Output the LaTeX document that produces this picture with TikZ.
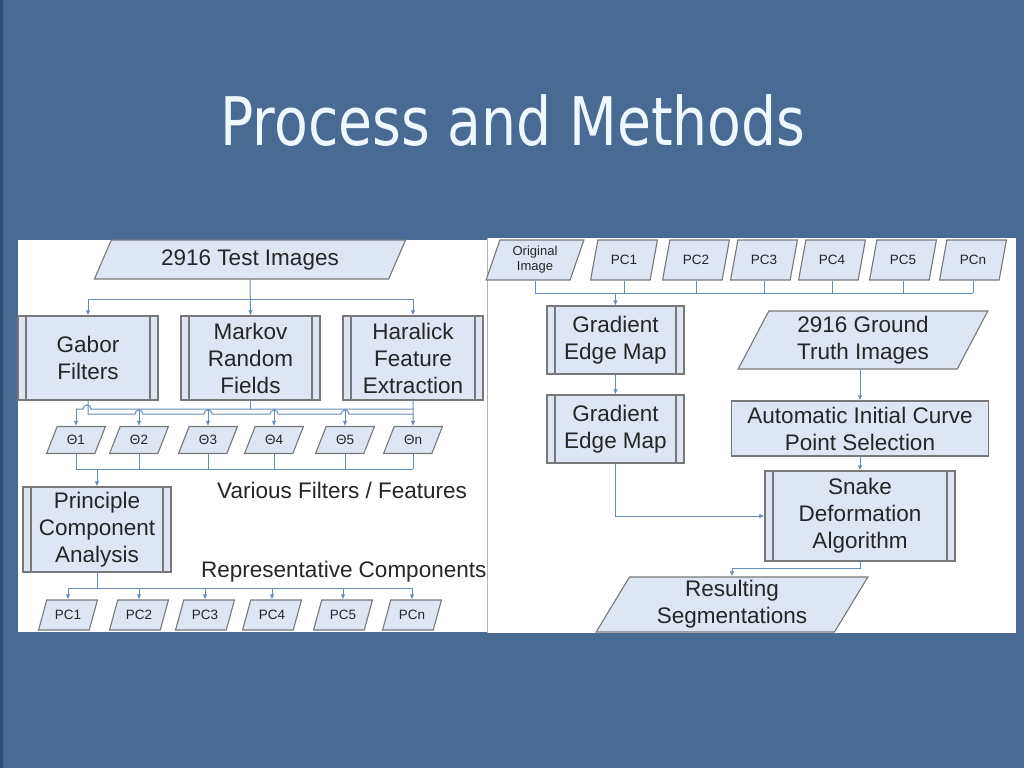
\documentclass[tikz,border=0pt]{standalone}
\usepackage{fontspec}
\setmainfont{Liberation Sans}
\newfontfamily\titlefont{DejaVu Sans}
\usetikzlibrary{shapes.geometric,arrows.meta}
\definecolor{slidebg}{RGB}{72,106,147}
\definecolor{slideedge}{RGB}{48,76,114}
\definecolor{boxfill}{RGB}{221,230,242}
\definecolor{boxline}{RGB}{120,120,120}
\definecolor{wireblue}{RGB}{98,140,190}
\definecolor{titletxt}{RGB}{238,248,255}
\tikzset{
	box/.style={draw=boxline, fill=boxfill, line width=1.1pt, text=black!85,
		font=\fontsize{22.5}{27}\selectfont, align=center, inner sep=0pt},
	procbox/.style={box, rectangle, path picture={
		\draw[boxline, line width=1.1pt]
			([xshift=8pt]path picture bounding box.north west) -- ([xshift=8pt]path picture bounding box.south west)
			([xshift=-8pt]path picture bounding box.north east) -- ([xshift=-8pt]path picture bounding box.south east);}},
	plainbox/.style={box, rectangle},
	databox/.style={box, trapezium, trapezium left angle=#1, trapezium right angle=180-#1, trapezium stretches=true},
	databox/.default=62,
	smalldata/.style={databox=#1, font=\fontsize{13.5}{14}\selectfont},
	smalldata/.default=62,
	wire/.style={draw=wireblue, line width=1pt},
	feed/.style={wire, -{Latex[length=5pt,width=4.5pt]}},
	note/.style={font=\fontsize{22.5}{26}\selectfont, text=black!85, anchor=west, inner sep=0pt}
}
\begin{document}
\begin{tikzpicture}[x=1pt,y=-1pt]
	\useasboundingbox (0,0) rectangle (1024,768);
	% slide
	\fill[slidebg] (0,0) rectangle (1024,768);
	\fill[slideedge] (0,0) rectangle (3,768);
	\node[font=\titlefont\fontsize{67}{70}\selectfont, text=titletxt, xscale=0.825, anchor=base] (title) at (513,145) {Process and Methods};
	\fill[white] (18,240) rectangle (487,632);
	\fill[white] (487,238) rectangle (1016,633);
	\draw[black!30, line width=0.6pt] (487,238) -- (487,633);

	% left panel: features
	\node[databox, minimum width=312, minimum height=39] (test) at (250,259.5) {2916 Test Images};
	\node[procbox, minimum width=140, minimum height=84] (gabor) at (88,358) {Gabor\\Filters};
	\node[procbox, minimum width=139, minimum height=84] (markov) at (250.5,358) {Markov\\Random\\Fields};
	\node[procbox, minimum width=140, minimum height=84] (haralick) at (413,358) {Haralick\\Feature\\Extraction};
	\foreach \i/\x/\t in {1/76/1, 2/139/2, 3/208/3, 4/274/4, 5/345/5, 6/413/n}
		\node[smalldata, minimum width=59, minimum height=27] (th\i) at (\x,440) {Θ\t};
	\node[procbox, minimum width=148, minimum height=85] (pca) at (97,529.5) {Principle\\Component\\Analysis};
	\node[note] (filtersnote) at (217,490) {Various Filters / Features};
	\node[note] (compnote) at (201,572) {Representative Components};
	\foreach \i/\x/\t in {1/68/1, 2/139/2, 3/205/3, 4/272/4, 5/343/5, 6/412/n}
		\node[smalldata, minimum width=59, minimum height=30] (pcl\i) at (\x,615) {PC\t};

	\draw[feed] (test.south) -- (markov.north);
	\draw[wire] (gabor.north |- 0,299) -- (haralick.north |- 0,299);
	\draw[feed] (gabor.north |- 0,299) -- (gabor.north);
	\draw[feed] (haralick.north |- 0,299) -- (haralick.north);

	% feature outputs, with hops
	\draw[wire] (th1.north |- 0,409) -- (83,409) arc[start angle=180, end angle=360, radius=4] -- (th6.north |- 0,409);
	\draw[wire] (markov.south) -- (markov.south |- 0,409);
	\draw[wire] (gabor.south) -- (88,414)
		-- (135,414) arc[start angle=180, end angle=360, radius=4]
		-- (204,414) arc[start angle=180, end angle=360, radius=4]
		-- (270,414) arc[start angle=180, end angle=360, radius=4]
		-- (341,414) arc[start angle=180, end angle=360, radius=4]
		-- (th6.north |- 0,414);
	\draw[feed] (haralick.south) -- (th6.north);
	\foreach \i in {1,...,5}
		\draw[feed] (th\i.north |- 0,409) -- (th\i.north);

	\foreach \i in {1,...,6}
		\draw[wire] (th\i.south) -- (th\i.south |- 0,469);
	\draw[wire] (th1.south |- 0,469) -- (th6.south |- 0,469);
	\draw[feed] (pca.north |- 0,469) -- (pca.north);

	\draw[wire] (pca.south) -- (pca.south |- 0,588);
	\draw[wire] (pcl1.north |- 0,588) -- (pcl6.north |- 0,588);
	\foreach \i in {1,...,6}
		\draw[feed] (pcl\i.north |- 0,588) -- (pcl\i.north);

	% right panel: segmentation
	\node[smalldata=72, minimum width=98, minimum height=40, font=\fontsize{13}{15}\selectfont] (orig) at (535,260) {Original\\Image};
	\foreach \i/\x/\t in {1/624/1, 2/696/2, 3/764/3, 4/832/4, 5/903/5, 6/973/n}
		\node[smalldata=69, minimum width=67, minimum height=40] (pcr\i) at (\x,260) {PC\t};
	\node[procbox, minimum width=137, minimum height=68] (grad1) at (615.5,340) {Gradient\\Edge Map};
	\node[procbox, minimum width=137, minimum height=68] (grad2) at (615.5,429) {Gradient\\Edge Map};
	\node[databox=66, minimum width=250, minimum height=58] (truth) at (863,340) {2916 Ground\\Truth Images};
	\node[plainbox, minimum width=257, minimum height=55] (auto) at (860,428.5) {Automatic Initial Curve\\Point Selection};
	\node[procbox, minimum width=190, minimum height=90] (snake) at (860,516) {Snake\\Deformation\\Algorithm};
	\node[databox=63, minimum width=272, minimum height=55] (result) at (732,604.5) {Resulting\\Segmentations};

	\draw[wire] (orig.south) -- (orig.south |- 0,293);
	\foreach \i in {1,...,6}
		\draw[wire] (pcr\i.south) -- (pcr\i.south |- 0,293);
	\draw[wire] (orig.south |- 0,293) -- (pcr6.south |- 0,293);
	\draw[feed] (grad1.north |- 0,293) -- (grad1.north);
	\draw[feed] (grad1.south) -- (grad2.north);
	\draw[feed] (truth.south -| auto.north) -- (auto.north);
	\draw[feed] (auto.south) -- (snake.north);
	\draw[feed] (grad2.south) |- (snake.west);
	\draw[feed] (snake.south) -- ++(0,7) -| (result.north);
\end{tikzpicture}
\end{document}
